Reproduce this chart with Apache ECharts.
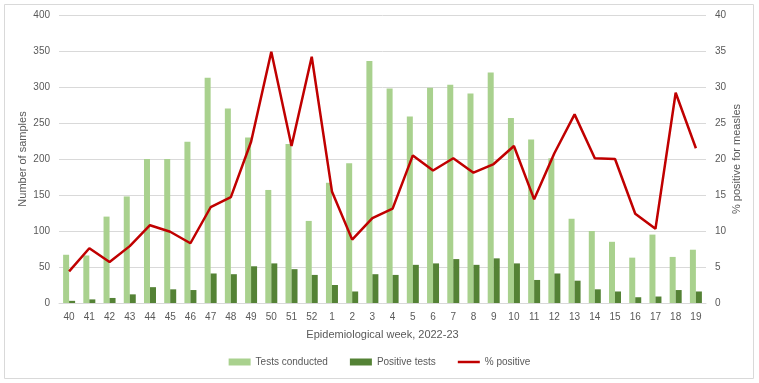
<!DOCTYPE html>
<html><head><meta charset="utf-8">
<script src="https://cdn.jsdelivr.net/npm/echarts@6/dist/echarts.min.js"></script>
<style>html,body{margin:0;padding:0;background:#fff}#c{width:759px;height:383px}</style>
</head><body><div id="c"></div>
<script>
const weeks = ['40','41','42','43','44','45','46','47','48','49','50','51','52','1','2','3','4','5','6','7','8','9','10','11','12','13','14','15','16','17','18','19'];
const testsConducted = [67,66,120,148,200,200,224,313,270,230,157,221,114,167,194,336,298,259,299,303,291,320,257,227,201,117,100,85,63,95,64,74];
const positiveTests = [3,5,7,12,22,19,18,41,40,51,55,47,39,25,16,40,39,53,55,61,53,62,55,32,41,31,19,16,8,9,18,16];
const pctPositive = [4.4,7.6,5.7,7.9,10.8,9.9,8.3,13.3,14.7,22.4,34.9,21.8,34.2,15.5,8.8,11.8,13.1,20.5,18.4,20.1,18.1,19.3,21.8,14.4,20.8,26.2,20.1,20.0,12.4,10.3,29.2,21.5];
const leftTicks = {min:0,max:400,interval:50};
const rightTicks = {min:0,max:40,interval:5};

const font = 'Liberation Sans';
const txt = '#595959';
const chart = echarts.init(document.getElementById('c'));
chart.setOption({
  animation:false,
  textStyle:{fontFamily:font},
  graphic:[{type:'rect',shape:{x:4.5,y:4.5,width:749,height:374},style:{fill:'none',stroke:'#d9d9d9',lineWidth:1},silent:true}],
  grid:{left:59,right:53,top:15,bottom:80},
  legend:{bottom:11,left:'center',itemWidth:22,itemHeight:7,itemGap:22,
    textStyle:{color:txt,fontSize:10,fontFamily:font},
    data:[{name:'Tests conducted',icon:'rect'},{name:'Positive tests',icon:'rect'},
          {name:'% positive',icon:'path://M0,0L22,0L22,2.5L0,2.5Z'}]},
  xAxis:{type:'category',data:weeks,
    name:'Epidemiological week, 2022-23',nameLocation:'middle',nameGap:26,
    nameTextStyle:{color:txt,fontSize:11,fontFamily:font},
    axisLine:{lineStyle:{color:'#d9d9d9'}},axisTick:{show:false},
    axisLabel:{color:txt,fontSize:10,margin:9}},
  yAxis:[{type:'value',min:leftTicks.min,max:leftTicks.max,interval:leftTicks.interval,
    name:'Number of samples',nameLocation:'middle',nameGap:31,nameMoveOverlap:false,
    nameTextStyle:{color:txt,fontSize:11,fontFamily:font},
    axisLabel:{color:txt,fontSize:10,margin:9},
    splitLine:{lineStyle:{color:'#d9d9d9'}},axisLine:{show:false},axisTick:{show:false}},
   {type:'value',min:rightTicks.min,max:rightTicks.max,interval:rightTicks.interval,position:'right',
    name:'% positive for measles',nameLocation:'middle',nameGap:25,nameRotate:90,nameMoveOverlap:false,
    nameTextStyle:{color:txt,fontSize:11,fontFamily:font},
    axisLabel:{color:txt,fontSize:10,margin:9},
    splitLine:{show:false},axisLine:{show:false},axisTick:{show:false}}],
  series:[
    {name:'Tests conducted',type:'bar',data:testsConducted,barWidth:6,barGap:'0%',itemStyle:{color:'#a9d18e'}},
    {name:'Positive tests',type:'bar',data:positiveTests,barWidth:6,barGap:'0%',itemStyle:{color:'#548235'}},
    {name:'% positive',type:'line',yAxisIndex:1,data:pctPositive,showSymbol:false,symbol:'none',
     lineStyle:{color:'#c00000',width:2.5},itemStyle:{color:'#c00000'}}
  ]
});
</script></body></html>
